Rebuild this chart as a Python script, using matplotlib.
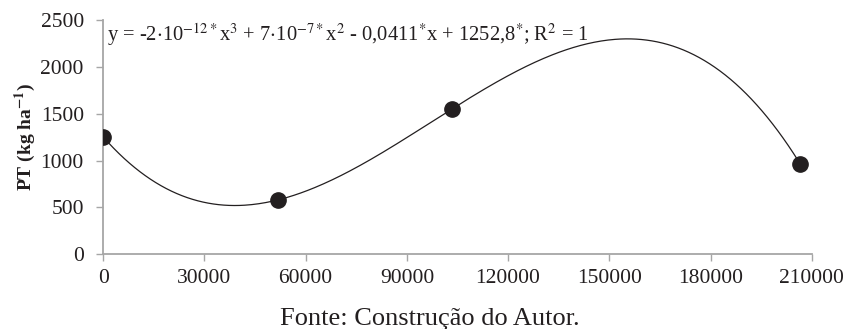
import numpy as np
import matplotlib.pyplot as plt

# dados
doses = [0, 51667, 103333, 206667]
pt = [1252.8, 578, 1552, 960]
x_ticks = [0, 30000, 60000, 90000, 120000, 150000, 180000, 210000]
y_ticks = [0, 500, 1000, 1500, 2000, 2500]

plt.rcParams['font.family'] = ['Liberation Serif', 'DejaVu Serif']
plt.rcParams['mathtext.fontset'] = 'stix'

AXIS_GRAY = '#a6a6a6'
DOT = '#231f20'

fig = plt.figure(figsize=(8.45, 3.29), dpi=100)
ax = fig.add_axes([0.1222, 0.228, 0.8384, 0.7097])

# ajuste polinomial de 3o grau
coef = np.polyfit(doses, pt, 3)
xs = np.linspace(0, max(doses), 400)
ax.plot(xs, np.polyval(coef, xs), color=DOT, lw=0.9, zorder=2)
ax.plot(doses, pt, 'o', color=DOT, ms=11, zorder=3)

ax.set_xlim(0, 210000)
ax.set_ylim(0, 2500)
ax.set_xticks(x_ticks)
ax.set_yticks(y_ticks)
ax.set_xticklabels([str(v) for v in x_ticks])

for s in ['top', 'right']:
    ax.spines[s].set_visible(False)
for s in ['left', 'bottom']:
    ax.spines[s].set_color(AXIS_GRAY)
    ax.spines[s].set_linewidth(1.3)
ax.tick_params(axis='both', colors=AXIS_GRAY, length=5, width=1.0,
               labelsize=15.5, labelcolor='#231f20')
ax.tick_params(axis='y', pad=9)
ax.tick_params(axis='x', pad=6)

ax.set_ylabel(r'PT (kg ha$^{\mathbf{-1}}$)', fontsize=14, fontweight='bold',
              color='#231f20', labelpad=2)

ax.text(1200, 2490,
        r'y = -2$\cdot$10$^{-12*}$x$^{3}$ + 7$\cdot$10$^{-7*}$x$^{2}$ - 0,0411$^{*}$x + 1252,8$^{*}$; R$^{2}$ = 1',
        fontsize=14.8, color='#231f20', va='top', ha='left')

fig.text(0.509, 0.012, 'Fonte: Construção do Autor.', fontsize=19,
         color='#231f20', ha='center', va='baseline')

fig.savefig('out.png', dpi=100)
